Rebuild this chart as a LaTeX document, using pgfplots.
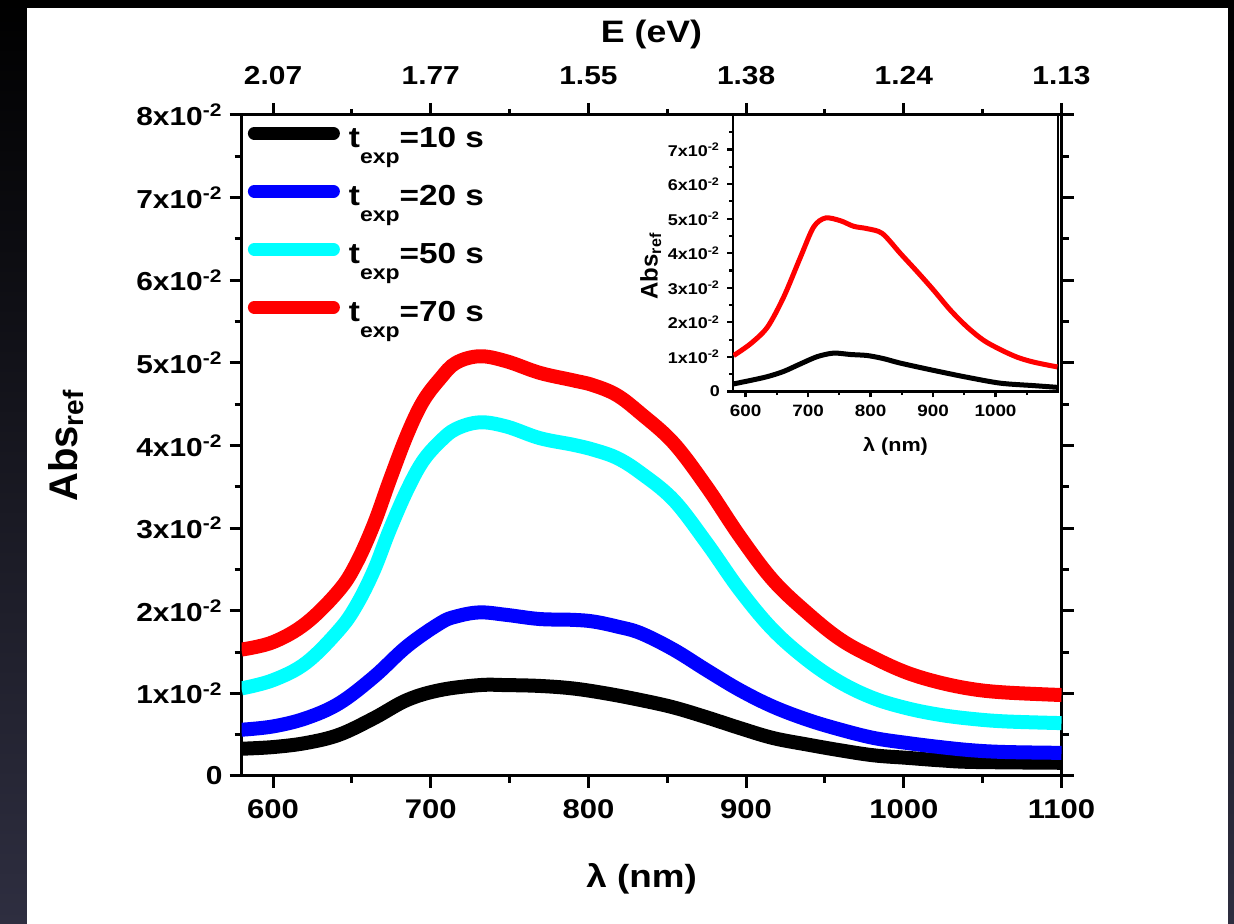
\documentclass[border=0pt]{standalone}
\usepackage{fontspec}
\setmainfont{Liberation Sans}[FakeStretch=1.15]
\newfontfamily\rotfont{Liberation Sans}
\usepackage{pgfplots}
\usepackage{pgfplotstable}
\pgfplotsset{compat=1.18}
\definecolor{bgtop}{RGB}{0,0,0}
\definecolor{bgbot}{RGB}{46,46,64}
\definecolor{pcyan}{RGB}{0,255,255}
\definecolor{pblue}{RGB}{0,0,255}
\definecolor{pred}{RGB}{255,0,0}
\newcommand{\texp}{t\raisebox{-8pt}{\fontsize{10}{10}\selectfont exp}}
\newcommand{\sci}[1]{#1x10\textsuperscript{-2}}

\pgfplotstableread{
x y
580 0.0153
600 0.0162
621 0.0185
642 0.0225
653 0.0258
664 0.0305
674 0.0358
685 0.0413
695 0.0453
706 0.0481
716 0.0500
731 0.0508
748 0.0502
769 0.0488
790 0.0479
803 0.0473
818 0.0461
833 0.0439
854 0.0403
875 0.0350
896 0.0290
917 0.0237
939 0.0197
960 0.0165
981 0.0143
1002 0.0125
1023 0.0113
1044 0.0105
1065 0.0101
1100 0.0098
}\redmain

\pgfplotstableread{
x y
580 0.0106
600 0.0116
621 0.0137
642 0.0177
653 0.0207
664 0.0249
674 0.0298
685 0.0346
695 0.0381
706 0.0405
716 0.0420
731 0.0428
748 0.0423
769 0.0409
790 0.0401
803 0.0395
818 0.0385
833 0.0367
854 0.0334
875 0.0282
896 0.0225
917 0.0177
939 0.0140
960 0.0113
981 0.0094
1002 0.0082
1023 0.0074
1044 0.0069
1065 0.0066
1100 0.0064
}\cyanmain

\pgfplotstableread{
x y
580 0.0056
600 0.0060
621 0.0070
642 0.0088
664 0.0120
685 0.0157
706 0.0185
716 0.0193
731 0.0198
748 0.0195
769 0.0190
790 0.0189
803 0.0187
818 0.0181
833 0.0173
854 0.0153
875 0.0128
896 0.0104
917 0.0084
939 0.0068
960 0.0056
981 0.0046
1002 0.0040
1023 0.0035
1044 0.0031
1065 0.0029
1100 0.0028
}\bluemain

\pgfplotstableread{
x y
580 0.0033
600 0.0035
621 0.0040
642 0.0050
664 0.0070
685 0.0092
706 0.0104
731 0.0110
748 0.0110
769 0.0109
790 0.0106
811 0.0100
833 0.0092
854 0.0083
875 0.0071
896 0.0058
917 0.0046
939 0.0038
960 0.0031
981 0.0025
1002 0.0022
1023 0.0019
1044 0.0017
1100 0.0016
}\blackmain

\pgfplotstableread{
x y
581 0.0104
608 0.0138
635 0.0186
661 0.0273
688 0.0389
709 0.0476
728 0.0502
752 0.0494
773 0.0478
795 0.0471
819 0.0457
848 0.0399
875 0.0346
901 0.0293
928 0.0235
955 0.0186
981 0.0148
1008 0.0121
1035 0.0099
1061 0.0085
1099 0.0071
}\redinset

\pgfplotstableread{
x y
581 0.0022
608 0.0032
635 0.0043
661 0.0058
688 0.0080
715 0.0101
741 0.0111
768 0.0107
795 0.0104
821 0.0095
848 0.0082
901 0.0061
955 0.0041
1008 0.0024
1061 0.0017
1099 0.0012
}\blackinset

\begin{document}
\begin{tikzpicture}
\shade[top color=bgtop, bottom color=bgbot] (0,0) rectangle (617pt,462pt);
\fill[white] (13.5pt,0) rectangle (614pt,458pt);
\useasboundingbox (0,0) rectangle (617pt,462pt);

% top energy axis
\begin{axis}[
  at={(120.75pt,74pt)}, anchor=south west,
  scale only axis, width=410pt, height=330.5pt,
  xmin=580, xmax=1100, ymin=0, ymax=1,
  axis x line*=top, axis y line=none,
  xtick={600,700,800,900,1000,1100},
  xticklabels={2.07,1.77,1.55,1.38,1.24,1.13},
  minor xtick={650,750,850,950,1050},
  tick align=outside,
  major tick length=6pt, minor tick length=3pt,
  tick style={line width=1.5pt, black},
  axis line style={line width=1.5pt},
  xticklabel style={font=\bfseries\fontsize{13}{14}\selectfont, yshift=5.5pt},
  xlabel={E (eV)},
  xlabel style={at={(axis description cs:0.5,1.1104)}, anchor=base,
    font=\bfseries\fontsize{15.5}{16}\selectfont},
]
\end{axis}

% main axis
\begin{axis}[
  at={(120.75pt,74pt)}, anchor=south west,
  scale only axis, width=410pt, height=330.5pt,
  xmin=580, xmax=1100, ymin=0, ymax=0.08,
  xtick={600,700,800,900,1000,1100},
  xticklabels={600,700,800,900,1000,1100},
  minor xtick={650,750,850,950,1050},
  ytick={0,0.01,0.02,0.03,0.04,0.05,0.06,0.07,0.08},
  yticklabels={0,\sci{1},\sci{2},\sci{3},\sci{4},\sci{5},\sci{6},\sci{7},\sci{8}},
  minor ytick={0.005,0.015,0.025,0.035,0.045,0.055,0.065,0.075},
  scaled y ticks=false,
  xtick pos=left, ytick pos=both, yticklabel pos=left,
  tick align=outside,
  major tick length=6pt, minor tick length=3.5pt,
  tick style={line width=1.5pt, black},
  axis line style={line width=1.5pt},
  xticklabel style={font=\bfseries\fontsize{13.5}{14}\selectfont, yshift=-2.5pt},
  yticklabel style={font=\bfseries\fontsize{13}{14}\selectfont},
  xlabel={λ (nm)},
  xlabel style={at={(axis description cs:0.488,-0.1694)}, anchor=base,
    font=\bfseries\fontsize{16}{17}\selectfont},
  ylabel={Abs\textsubscript{ref}},
  ylabel style={at={(axis description cs:-0.2006,0.5)}, anchor=base,
    font=\rotfont\bfseries\fontsize{20}{21}\selectfont},
  legend cell align=left,
  legend image code/.code={\draw[#1, line cap=round, line width=6.5pt] (0pt,0pt) -- (39.5pt,0pt);},
  legend style={at={(axis description cs:0,1)}, anchor=north west, xshift=3pt,
    draw=none, fill=none, inner sep=0pt, row sep=11pt,
    font=\bfseries\fontsize{14.5}{15}\selectfont,
    nodes={inner sep=0pt, text height=16pt, text depth=2pt},
    /tikz/every odd column/.append style={column sep=4.5pt}},
]
\addplot[black, line width=7pt, smooth, tension=0.6] table[x=x,y=y] {\blackmain};
\addlegendentry{\texp=10 s}
\addplot[pblue, line width=7pt, smooth, tension=0.6] table[x=x,y=y] {\bluemain};
\addlegendentry{\texp=20 s}
\addplot[pcyan, line width=7pt, smooth, tension=0.6] table[x=x,y=y] {\cyanmain};
\addlegendentry{\texp=50 s}
\addplot[pred, line width=7pt, smooth, tension=0.6] table[x=x,y=y] {\redmain};
\addlegendentry{\texp=70 s}
\end{axis}

% inset
\begin{axis}[
  at={(366.5pt,266.25pt)}, anchor=south west,
  scale only axis, width=162.5pt, height=138.25pt,
  xmin=580, xmax=1100, ymin=0, ymax=0.08,
  axis background/.style={fill=white},
  xtick={600,700,800,900,1000},
  xticklabels={600,700,800,900,1000},
  minor xtick={650,750,850,950,1050},
  ytick={0,0.01,0.02,0.03,0.04,0.05,0.06,0.07},
  yticklabels={0,\sci{1},\sci{2},\sci{3},\sci{4},\sci{5},\sci{6},\sci{7}},
  minor ytick={0.005,0.015,0.025,0.035,0.045,0.055,0.065,0.075},
  scaled y ticks=false,
  xtick pos=left, ytick pos=left,
  tick align=outside,
  major tick length=3pt, minor tick length=1.8pt,
  tick style={line width=1.1pt, black},
  axis line style={line width=1.3pt},
  xticklabel style={font=\bfseries\fontsize{8.2}{9}\selectfont},
  yticklabel style={font=\bfseries\fontsize{7.8}{8.5}\selectfont},
  xlabel={λ (nm)},
  xlabel style={at={(axis description cs:0.5,-0.2177)}, anchor=base,
    font=\bfseries\fontsize{9.4}{10}\selectfont},
  ylabel={Abs\textsubscript{ref}},
  ylabel style={at={(axis description cs:-0.232,0.454)}, anchor=base,
    font=\rotfont\bfseries\fontsize{12}{13}\selectfont},
]
\addplot[pred, line width=2.5pt, smooth, tension=0.5] table[x=x,y=y] {\redinset};
\addplot[black, line width=2.5pt, smooth, tension=0.5] table[x=x,y=y] {\blackinset};
\end{axis}
\end{tikzpicture}
\end{document}
